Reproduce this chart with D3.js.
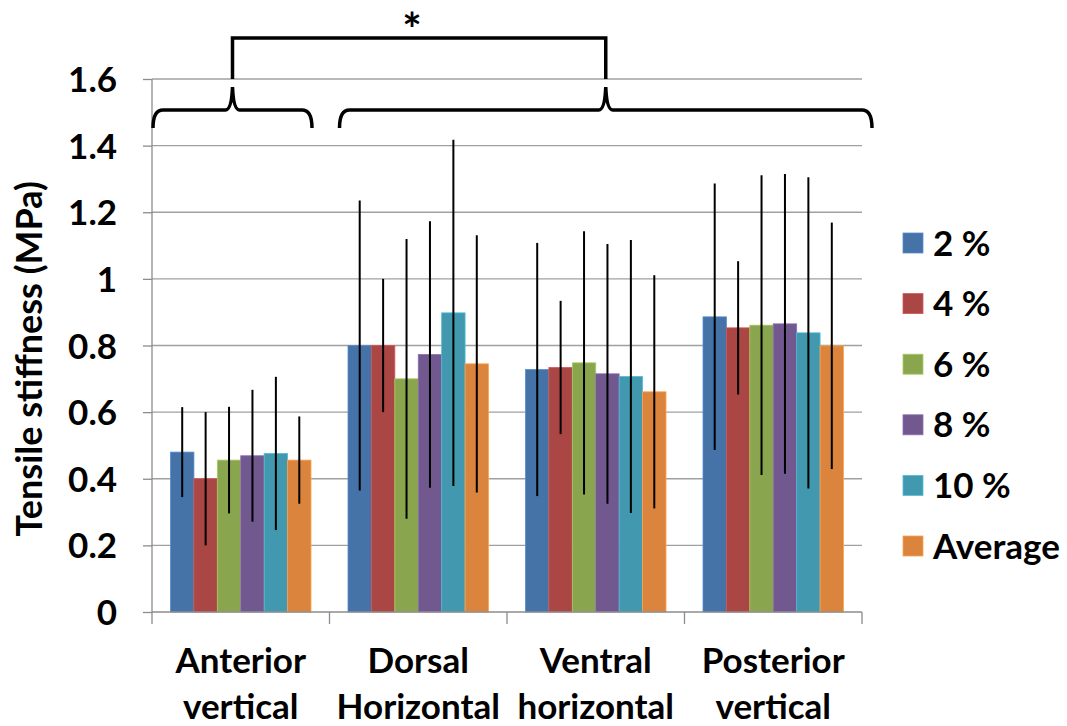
<!DOCTYPE html>
<html>
<head>
<meta charset="utf-8">
<script src="https://cdn.jsdelivr.net/npm/d3@7"></script>
<style>
  body { margin: 0; background: #fff; }
  text { font-family: Lato, 'Open Sans', sans-serif; font-weight: bold; fill: #000; }
</style>
</head>
<body>
<svg width="1067" height="726"></svg>
<script>
(function (d3) {
  'use strict';

  // categories (two-line labels)
  const categories = ['Anterior vertical', 'Dorsal Horizontal', 'Ventral horizontal', 'Posterior vertical'];
  const categoryLines = [['Anterior', 'vertical'], ['Dorsal', 'Horizontal'], ['Ventral', 'horizontal'], ['Posterior', 'vertical']];
  const series = ['2 %', '4 %', '6 %', '8 %', '10 %', 'Average'];
  const colors = ['#4572A7', '#AA4643', '#89A54E', '#71588F', '#4198AF', '#DB843D'];

  // mean values, one array per series (order of categories)
  const v2  = [0.48, 0.80, 0.728, 0.886];
  const v4  = [0.40, 0.80, 0.734, 0.853];
  const v6  = [0.456, 0.70, 0.748, 0.861];
  const v8  = [0.469, 0.773, 0.715, 0.865];
  const v10 = [0.476, 0.898, 0.707, 0.838];
  const vAvg = [0.456, 0.745, 0.661, 0.799];

  // standard deviations
  const e2  = [0.135, 0.435, 0.38, 0.40];
  const e4  = [0.20, 0.20, 0.20, 0.20];
  const e6  = [0.16, 0.42, 0.395, 0.45];
  const e8  = [0.198, 0.40, 0.39, 0.45];
  const e10 = [0.23, 0.52, 0.41, 0.467];
  const eAvg = [0.131, 0.386, 0.35, 0.37];

  const yTicks = [0, 0.2, 0.4, 0.6, 0.8, 1, 1.2, 1.4, 1.6];

  const values = [v2, v4, v6, v8, v10, vAvg];
  const errors = [e2, e4, e6, e8, e10, eAvg];

  const data = [];
  categories.forEach((c, ci) => {
    series.forEach((s, si) => {
      data.push({ category: c, series: s, value: values[si][ci], err: errors[si][ci] });
    });
  });

  const svg = d3.select('svg');
  const margin = { top: 79, left: 152, right: 205, bottom: 114 };
  const width = +svg.attr('width');
  const height = +svg.attr('height');
  const innerWidth = width - margin.left - margin.right;
  const innerHeight = height - margin.top - margin.bottom;

  const g = svg.append('g').attr('transform', `translate(${margin.left},${margin.top})`);

  const xScale = d3.scaleBand().domain(categories).range([0, innerWidth]).padding(0);
  const xInner = d3.scaleBand().domain(series).range([0, xScale.bandwidth()]).paddingOuter(0.79).paddingInner(0);
  const yScale = d3.scaleLinear().domain([0, 1.6]).range([innerHeight, 0]);

  const colorScale = d3.scaleOrdinal().domain(series).range(colors);

  // gridlines
  g.append('g').selectAll('line').data(yTicks.slice(1)).enter().append('line')
    .attr('x1', 0).attr('x2', innerWidth)
    .attr('y1', d => yScale(d)).attr('y2', d => yScale(d))
    .attr('stroke', '#a0a0a0').attr('stroke-width', 1.3);

  // y axis
  const yAxis = d3.axisLeft(yScale).tickValues(yTicks).tickSize(9).tickPadding(26)
    .tickFormat(d => d3.format('')(+d.toFixed(1)));
  const yAxisG = g.append('g').call(yAxis);
  yAxisG.selectAll('line, path').attr('stroke', '#8c8c8c').attr('stroke-width', 1.3);
  yAxisG.select('.domain').attr('d', `M0,${yScale(1.6)}V${innerHeight}`);
  yAxisG.selectAll('text').attr('font-size', 35).attr('font-family', 'Lato').attr('font-weight', 'bold')
    .attr('fill', '#000').attr('dy', '0.36em');

  // bars
  const groups = g.append('g').selectAll('g').data(categories).enter().append('g')
    .attr('transform', d => `translate(${xScale(d)},0)`);

  groups.selectAll('rect').data(c => data.filter(d => d.category === c)).enter().append('rect')
    .attr('x', d => xInner(d.series))
    .attr('width', xInner.bandwidth())
    .attr('y', d => yScale(d.value))
    .attr('height', d => innerHeight - yScale(d.value))
    .attr('fill', d => colorScale(d.series))
    .attr('stroke', d => d3.color(colorScale(d.series)).brighter(0.6))
    .attr('stroke-width', 0.8);

  // error bars
  groups.selectAll('line.err').data(c => data.filter(d => d.category === c)).enter().append('line')
    .attr('class', 'err')
    .attr('x1', d => xInner(d.series) + xInner.bandwidth() / 2)
    .attr('x2', d => xInner(d.series) + xInner.bandwidth() / 2)
    .attr('y1', d => yScale(d.value + d.err))
    .attr('y2', d => yScale(d.value - d.err))
    .attr('stroke', '#000').attr('stroke-width', 2);

  // x axis
  const xAxisG = g.append('g').attr('transform', `translate(0,${innerHeight})`);
  xAxisG.append('line').attr('x1', 0).attr('x2', innerWidth).attr('y1', 0).attr('y2', 0)
    .attr('stroke', '#8c8c8c').attr('stroke-width', 1.3);
  const boundaries = categories.map(c => xScale(c)).concat([innerWidth]);
  xAxisG.selectAll('line.tick').data(boundaries).enter().append('line')
    .attr('class', 'tick')
    .attr('x1', d => d).attr('x2', d => d).attr('y1', 0).attr('y2', 12)
    .attr('stroke', '#8c8c8c').attr('stroke-width', 1.3);

  const catText = xAxisG.selectAll('text.cat').data(categories).enter().append('text')
    .attr('class', 'cat')
    .attr('text-anchor', 'middle')
    .attr('font-size', 35)
    .attr('transform', d => `translate(${xScale(d) + xScale.bandwidth() / 2},0)`);
  catText.selectAll('tspan').data((d, i) => categoryLines[i]).enter().append('tspan')
    .attr('x', 0)
    .attr('y', (d, i) => 61 + i * 46)
    .text(d => d);

  // y axis title
  g.append('text')
    .attr('transform', `translate(${42 - margin.left},${yScale(0.76)}) rotate(-90)`)
    .attr('text-anchor', 'middle')
    .attr('font-size', 36)
    .text('Tensile stiffness (MPa)');

  // significance annotation: braces + bracket + star
  const braceTipY = yScale(1.576);
  const braceY = yScale(1.507);
  const braceEndY = yScale(1.453);
  const bracketY = yScale(1.723);

  const brace = (x0, x1) => {
    const xm = (x0 + x1) / 2;
    return `M${x0},${braceEndY}` +
      `Q${x0},${braceY} ${x0 + 10},${braceY}` +
      `L${xm - 7},${braceY}` +
      `Q${xm - 1},${braceY} ${xm},${braceTipY}` +
      `Q${xm + 1},${braceY} ${xm + 7},${braceY}` +
      `L${x1 - 10},${braceY}` +
      `Q${x1},${braceY} ${x1},${braceEndY}`;
  };

  const leftX0 = xScale(categories[0]) + 1;
  const leftX1 = xScale(categories[0]) + 160;
  const rightX0 = xScale(categories[1]) + 10;
  const rightX1 = xScale(categories[3]) + xScale.bandwidth() + 10;

  const ann = g.append('g').attr('fill', 'none').attr('stroke', '#000').attr('stroke-width', 3.5);
  ann.append('path').attr('d', brace(leftX0, leftX1));
  ann.append('path').attr('d', brace(rightX0, rightX1));

  const lTip = (leftX0 + leftX1) / 2;
  const rTip = (rightX0 + rightX1) / 2;
  ann.append('path')
    .attr('d', `M${lTip},${yScale(1.6)}V${bracketY}H${rTip}V${yScale(1.6)}`)
    .attr('stroke-width', 3.5);

  g.append('text')
    .attr('x', (lTip + rTip) / 2 - 7)
    .attr('y', bracketY + 8)
    .attr('text-anchor', 'middle')
    .attr('font-size', 46)
    .text('*');

  // legend
  const legend = svg.append('g').attr('transform', 'translate(903,233)');
  const items = legend.selectAll('g').data(series).enter().append('g')
    .attr('transform', (d, i) => `translate(0,${i * 60.6})`);
  items.append('rect').attr('width', 20).attr('height', 20)
    .attr('fill', d => colorScale(d))
    .attr('stroke', d => d3.color(colorScale(d)).brighter(0.6)).attr('stroke-width', 0.8);
  items.append('text').attr('x', 30).attr('y', 10).attr('dy', '0.36em')
    .attr('font-size', 35).text(d => d);

}(d3));
</script>
</body>
</html>
